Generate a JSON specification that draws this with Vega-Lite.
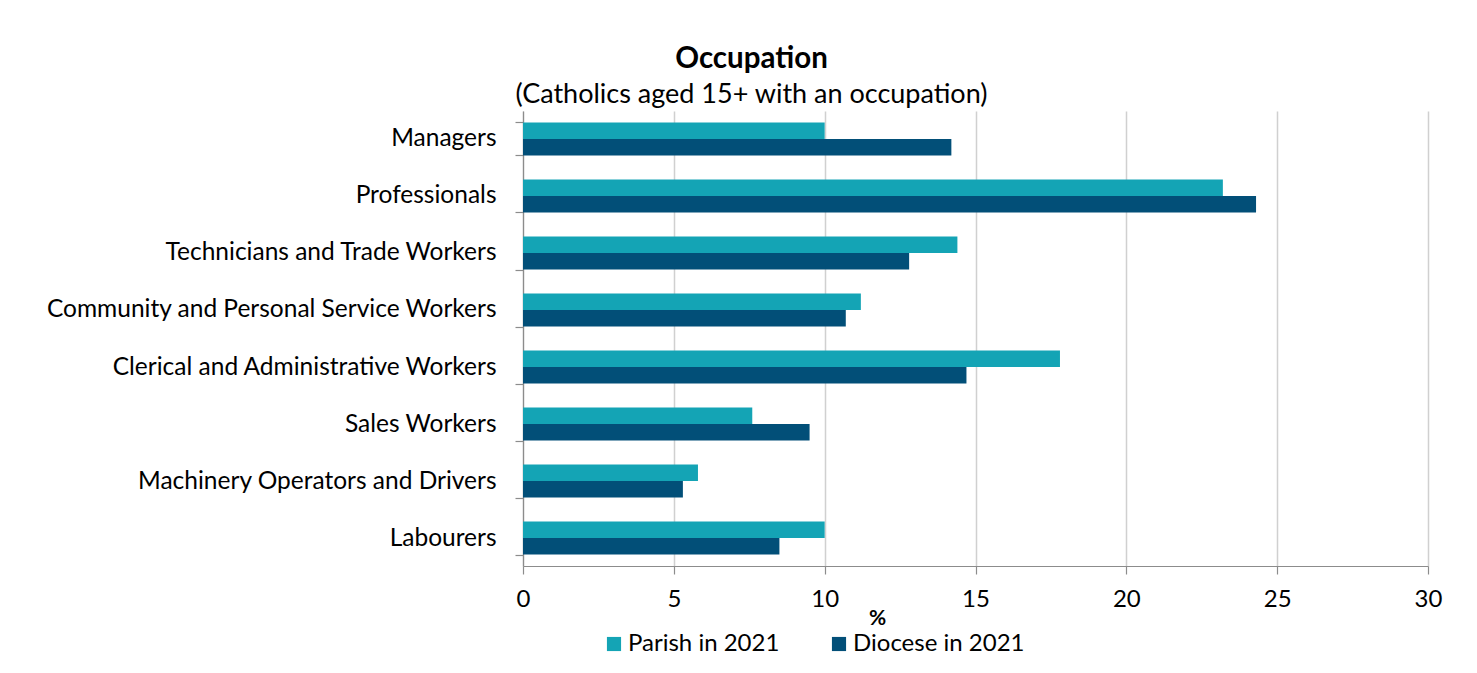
{
  "$schema": "https://vega.github.io/schema/vega-lite/v6.json",
  "width": 905,
  "height": 455,
  "autosize": "none",
  "padding": {"left": 523, "top": 111, "right": 49, "bottom": 107},
  "background": "white",
  "title": {
    "text": "Occupation",
    "subtitle": "(Catholics aged 15+ with an occupation)",
    "anchor": "middle",
    "frame": "group",
    "dx": -224,
    "dy": 15,
    "offset": 4,
    "font": "Lato",
    "fontSize": 29.5,
    "fontWeight": "bold",
    "color": "#000000",
    "subtitleFont": "Lato",
    "subtitleFontSize": 27,
    "subtitleColor": "#000000",
    "subtitlePadding": 8
  },
  "data": {
    "values": [
      {"occupation": "Managers", "series": "Parish in 2021", "percent": 10.0},
      {"occupation": "Managers", "series": "Diocese in 2021", "percent": 14.2},
      {"occupation": "Professionals", "series": "Parish in 2021", "percent": 23.2},
      {"occupation": "Professionals", "series": "Diocese in 2021", "percent": 24.3},
      {"occupation": "Technicians and Trade Workers", "series": "Parish in 2021", "percent": 14.4},
      {"occupation": "Technicians and Trade Workers", "series": "Diocese in 2021", "percent": 12.8},
      {"occupation": "Community and Personal Service Workers", "series": "Parish in 2021", "percent": 11.2},
      {"occupation": "Community and Personal Service Workers", "series": "Diocese in 2021", "percent": 10.7},
      {"occupation": "Clerical and Administrative Workers", "series": "Parish in 2021", "percent": 17.8},
      {"occupation": "Clerical and Administrative Workers", "series": "Diocese in 2021", "percent": 14.7},
      {"occupation": "Sales Workers", "series": "Parish in 2021", "percent": 7.6},
      {"occupation": "Sales Workers", "series": "Diocese in 2021", "percent": 9.5},
      {"occupation": "Machinery Operators and Drivers", "series": "Parish in 2021", "percent": 5.8},
      {"occupation": "Machinery Operators and Drivers", "series": "Diocese in 2021", "percent": 5.3},
      {"occupation": "Labourers", "series": "Parish in 2021", "percent": 10.0},
      {"occupation": "Labourers", "series": "Diocese in 2021", "percent": 8.5}
    ]
  },
  "mark": {"type": "bar"},
  "encoding": {
    "y": {
      "field": "occupation",
      "type": "nominal",
      "sort": ["Managers", "Professionals", "Technicians and Trade Workers", "Community and Personal Service Workers", "Clerical and Administrative Workers", "Sales Workers", "Machinery Operators and Drivers", "Labourers"],
      "scale": {"paddingInner": 0.42, "paddingOuter": 0.2},
      "title": null,
      "axis": {
        "domain": true,
        "domainColor": "#8c8c8c",
        "domainWidth": 1.2,
        "ticks": true,
        "tickBand": "extent",
        "tickColor": "#8c8c8c",
        "tickWidth": 1.2,
        "tickSize": 8,
        "labelPadding": 19,
        "labelLimit": 0,
        "labelFont": "Lato",
        "labelFontSize": 24.5,
        "labelColor": "#000000",
        "grid": false
      }
    },
    "x": {
      "field": "percent",
      "type": "quantitative",
      "scale": {"domain": [0, 30], "nice": false},
      "title": "%",
      "axis": {
        "values": [0, 5, 10, 15, 20, 25, 30],
        "grid": true,
        "gridColor": "#d0d0d0",
        "gridWidth": 1.5,
        "domainColor": "#8c8c8c",
        "domainWidth": 1.2,
        "tickColor": "#8c8c8c",
        "tickWidth": 1.2,
        "tickSize": 8,
        "labelPadding": 13,
        "labelFlush": false,
        "labelFont": "Lato",
        "labelFontSize": 24,
        "labelColor": "#000000",
        "titleFont": "Lato",
        "titleFontSize": 21,
        "titleFontWeight": "bold",
        "titleColor": "#000000",
        "titleX": 354,
        "titleY": 58,
        "titleBaseline": "alphabetic"
      }
    },
    "yOffset": {
      "field": "series",
      "sort": ["Parish in 2021", "Diocese in 2021"],
      "scale": {"paddingInner": 0}
    },
    "color": {
      "field": "series",
      "type": "nominal",
      "sort": ["Parish in 2021", "Diocese in 2021"],
      "scale": {"domain": ["Parish in 2021", "Diocese in 2021"], "range": ["#14a4b5", "#024f78"]},
      "legend": {
        "title": null,
        "orient": "none",
        "direction": "horizontal",
        "legendX": 79,
        "legendY": 521,
        "symbolType": "square",
        "symbolSize": 200,
        "symbolStrokeWidth": 0,
        "labelFont": "Lato",
        "labelFontSize": 24,
        "labelLimit": 0,
        "labelColor": "#000000",
        "columnPadding": 47,
        "labelOffset": 2
      }
    }
  },
  "config": {
    "view": {"stroke": null},
    "font": "Lato"
  }
}
